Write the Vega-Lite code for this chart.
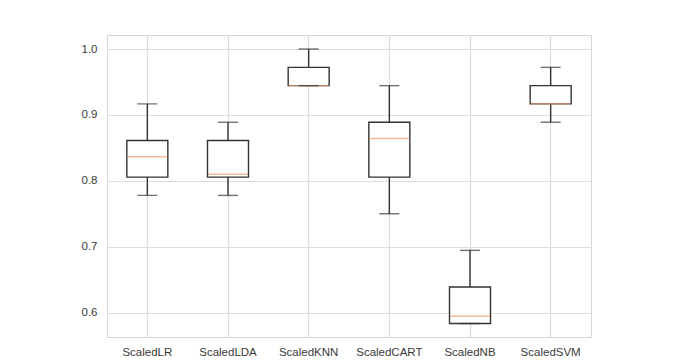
{
  "$schema": "https://vega.github.io/schema/vega-lite/v6.json",
  "width": 484,
  "height": 302,
  "autosize": "none",
  "padding": {"left": 107, "top": 35, "right": 99, "bottom": 25},
  "background": "white",
  "config": {
    "font": "Liberation Sans",
    "view": {"stroke": "#d6d6d6", "strokeWidth": 1}
  },
  "data": {
    "values": [
      {"model": "ScaledLR", "min": 0.7778, "q1": 0.8056, "median": 0.8366, "q3": 0.8611, "max": 0.9167},
      {"model": "ScaledLDA", "min": 0.7778, "q1": 0.8056, "median": 0.8100, "q3": 0.8611, "max": 0.8889},
      {"model": "ScaledKNN", "min": 0.9444, "q1": 0.9444, "median": 0.9444, "q3": 0.9722, "max": 1.0},
      {"model": "ScaledCART", "min": 0.75, "q1": 0.8056, "median": 0.8643, "q3": 0.8889, "max": 0.9444},
      {"model": "ScaledNB", "min": 0.5833, "q1": 0.5833, "median": 0.5944, "q3": 0.6389, "max": 0.6944},
      {"model": "ScaledSVM", "min": 0.8889, "q1": 0.9167, "median": 0.9167, "q3": 0.9444, "max": 0.9722}
    ]
  },
  "encoding": {
    "x": {
      "field": "model",
      "type": "nominal",
      "sort": null,
      "scale": {"paddingInner": 0, "paddingOuter": 0},
      "axis": {
        "title": null,
        "labelAngle": 0,
        "labelFontSize": 11.5,
        "labelColor": "#3a3a3a",
        "labelPadding": 9,
        "tickSize": 0,
        "domain": false,
        "grid": true,
        "gridColor": "#dcdcdc",
        "gridWidth": 1.2,
        "bandPosition": 0.5
      }
    }
  },
  "layer": [
    {
      "mark": {"type": "rule", "color": "#333333", "strokeWidth": 1.4},
      "encoding": {
        "y": {
          "field": "min",
          "type": "quantitative",
          "scale": {"domain": [0.5629, 1.0213], "nice": false, "zero": false},
          "axis": {
            "title": null,
            "values": [0.6, 0.7, 0.8, 0.9, 1.0],
            "format": ".1f",
            "labelFontSize": 11.5,
            "labelColor": "#3a3a3a",
            "labelPadding": 10,
            "tickSize": 0,
            "domain": false,
            "grid": true,
            "gridColor": "#dcdcdc",
            "gridWidth": 1.2
          }
        },
        "y2": {"field": "max"}
      }
    },
    {
      "mark": {"type": "bar", "fill": "white", "stroke": "#333333", "strokeWidth": 1.4, "size": 41},
      "encoding": {
        "y": {"field": "q1", "type": "quantitative"},
        "y2": {"field": "q3"}
      }
    },
    {
      "mark": {"type": "tick", "color": "#ee9c6c", "thickness": 1.4, "size": 40},
      "encoding": {
        "y": {"field": "median", "type": "quantitative"}
      }
    },
    {
      "mark": {"type": "tick", "color": "#333333", "thickness": 1.4, "size": 20},
      "encoding": {
        "y": {"field": "min", "type": "quantitative"}
      }
    },
    {
      "mark": {"type": "tick", "color": "#333333", "thickness": 1.4, "size": 20},
      "encoding": {
        "y": {"field": "max", "type": "quantitative"}
      }
    }
  ]
}
